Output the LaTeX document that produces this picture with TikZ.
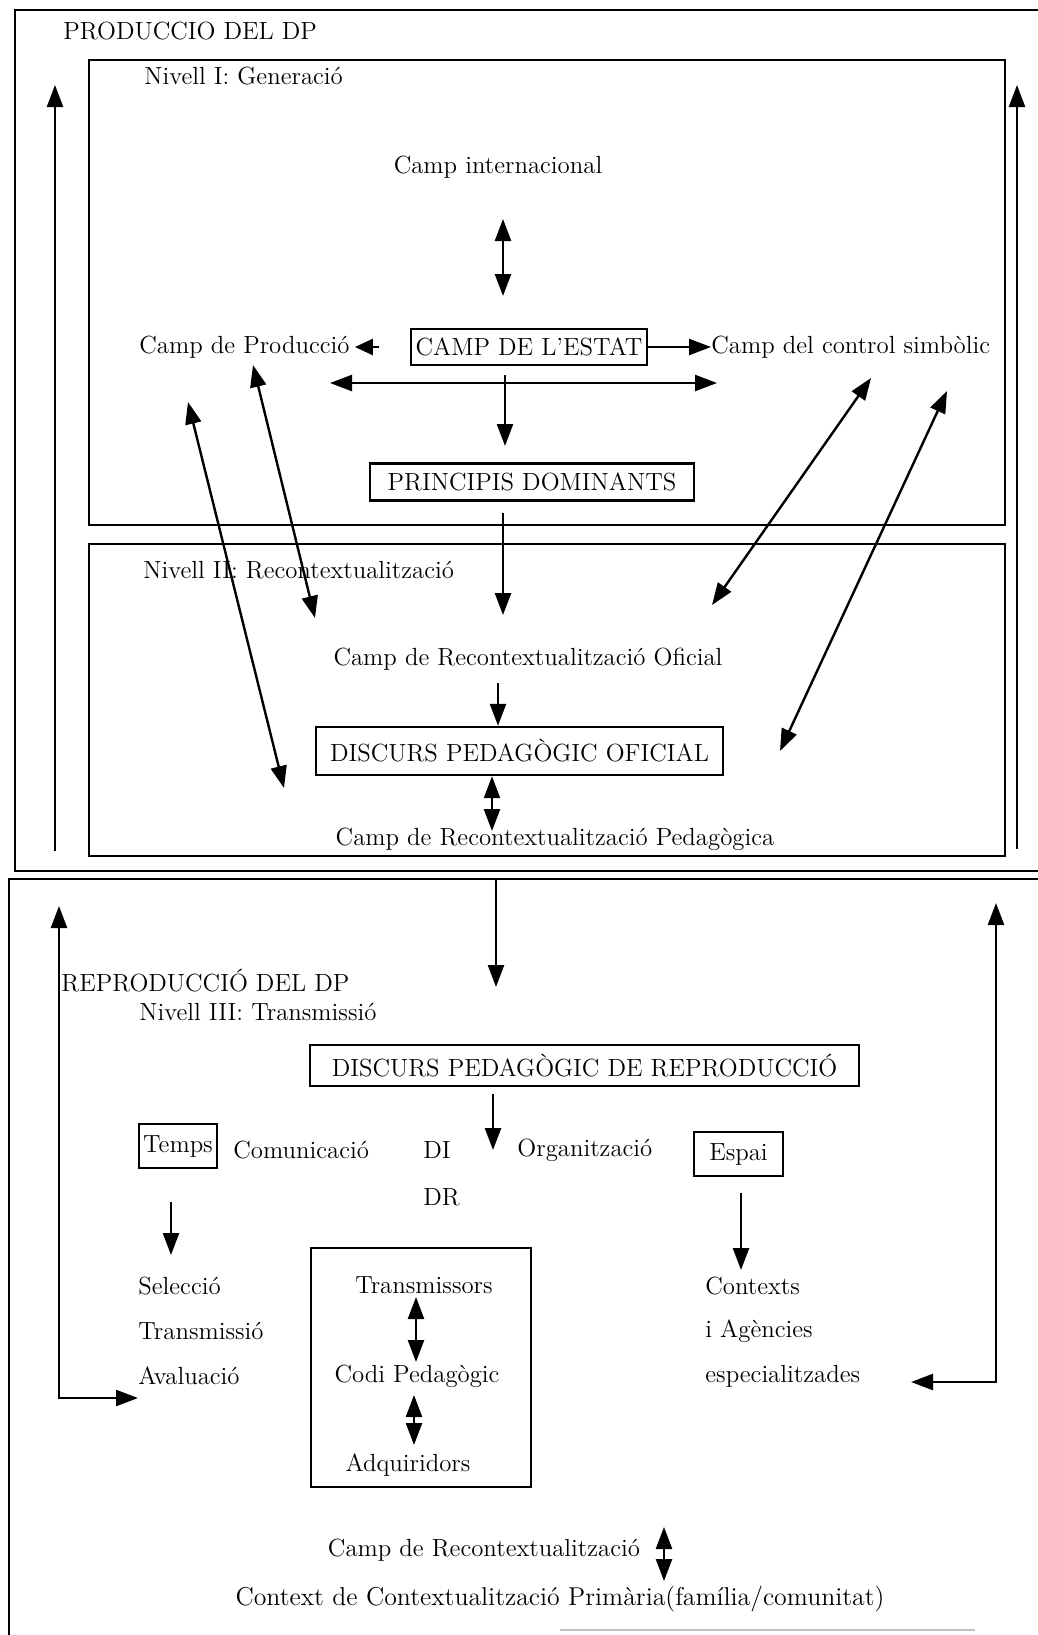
\documentclass[tikz,border=0pt]{standalone}
\usepackage{fontspec}
\usetikzlibrary{arrows.meta,calc}
\begin{document}
\begin{tikzpicture}[x=0.5pt,y=-0.5pt,
  every node/.style={font=\fontsize{12.4}{14}\selectfont, inner sep=0pt},
  lbl/.style={anchor=west},
  frame/.style={draw, line width=1.2pt},
  boxn/.style={draw, line width=1.2pt, inner sep=2pt},
  arr/.style={line width=1.2pt, -{Triangle[length=11pt,width=8pt]}},
  sarr/.style={line width=1.2pt, -{Triangle[length=9pt,width=8pt]}},
  darr/.style={line width=1.2pt, {Triangle[length=11pt,width=8pt]}-{Triangle[length=11pt,width=8pt]}}]
\useasboundingbox (0,0) rectangle (1038,1635);
% containers
\draw[frame] (15,10) rectangle (1070,871);
\draw[frame] (89,60) rectangle (1005,525);
\draw[frame] (89,544) rectangle (1005,856);
\draw[frame] (9,1650) -- (9,879) -- (1070,879);
\draw[gray!50, line width=1pt] (560,1630) -- (975,1630);

% ---- Producció ----
\node[lbl] (tprod) at (63,31) {PRODUCCIO DEL DP};
\node[lbl] (tniv1) at (144,76) {Nivell I: Generació};
\node (intl) at (498,167) {Camp internacional};
\node[boxn, minimum width=118pt, minimum height=18pt] (estat) at (529,347) {CAMP DE L'ESTAT};
\node[lbl] (cprod) at (139,347) {Camp de Producció};
\node[lbl] (csimb) at (711,347) {Camp del control simbòlic};
\node[boxn, minimum width=162pt, minimum height=18.5pt] (princ) at (532,482) {PRINCIPIS DOMINANTS};
\node[lbl] (tniv2) at (143,570) {Nivell II: Recontextualització};
\node (cro) at (528,659) {Camp de Recontextualització Oficial};
\node[boxn, minimum width=203.5pt, minimum height=24pt] (dpo) at (519.5,751) {DISCURS PEDAGÒGIC OFICIAL};
\node (crp) at (555,839) {Camp de Recontextualització Pedagògica};

\coordinate (i1) at (503,219);
\coordinate (i2) at (503,296);
\draw[darr] (i1) -- (i2);
\draw[sarr] ([xshift=-15.5pt]estat.west) -- ([xshift=2.5pt]cprod.east);
\draw[arr] (estat.east) -- (csimb.west);
\coordinate (hl) at (330,383);
\coordinate (hr) at (717,383);
\draw[darr] (hl) -- (hr);
\coordinate (v1) at (505,375);
\coordinate (v2) at (505,446);
\draw[arr] (v1) -- (v2);
\coordinate (p1) at (503,513);
\coordinate (p2) at (503,615);
\draw[arr] (p1) -- (p2);
\coordinate (o1) at (498,683);
\draw[arr] (o1) -- (o1 |- dpo.north);
\coordinate (o2) at (492,831);
\draw[darr] (o2 |- dpo.south) -- (o2);

\coordinate (d1a) at (188,402); \coordinate (d1b) at (284,788);
\coordinate (d2a) at (253,365); \coordinate (d2b) at (315,618);
\coordinate (d3a) at (871,378); \coordinate (d3b) at (712,605);
\coordinate (d4a) at (947,391); \coordinate (d4b) at (780,751);
\draw[darr] (d1a) -- (d1b);
\draw[darr] (d2a) -- (d2b);
\draw[darr] (d3a) -- (d3b);
\draw[darr] (d4a) -- (d4b);

\coordinate (l1) at (55,851); \coordinate (l2) at (55,85);
\coordinate (r1) at (1017,849); \coordinate (r2) at (1017,85);
\draw[arr] (l1) -- (l2);
\draw[arr] (r1) -- (r2);

% ---- Reproducció ----
\coordinate (m1) at (496,879); \coordinate (m2) at (496,987);
\draw[arr] (m1) -- (m2);
\node[lbl] (trep) at (61,981) {REPRODUCCIÓ DEL DP};
\node[lbl] (tniv3) at (139,1012) {Nivell III: Transmissió};
\node[boxn, minimum width=274.5pt, minimum height=20.5pt] (dpr) at (584.5,1065.5) {DISCURS PEDAGÒGIC DE REPRODUCCIÓ};
\coordinate (n1) at (493,1094); \coordinate (n2) at (493,1150);
\draw[arr] (n1) -- (n2);
\node[boxn, inner sep=0pt, minimum width=39pt, minimum height=22pt] (temps) at (178,1146) {Temps};
\node[lbl] (comu) at (233,1150) {Comunicació};
\node[lbl] (di) at (423,1150) {DI};
\node[lbl] (org) at (517,1150) {Organització};
\node[boxn, minimum width=44.5pt, minimum height=22pt] (espai) at (738.5,1154) {Espai};
\node[lbl] (dr) at (423,1197) {DR};
\coordinate (t1) at (171,1202); \coordinate (t2) at (171,1255);
\draw[arr] (t1) -- (t2);
\coordinate (e1) at (741,1193); \coordinate (e2) at (741,1270);
\draw[arr] (e1) -- (e2);
\node[lbl] (sel) at (138,1286) {Selecció};
\node[lbl] (trm) at (138,1331) {Transmissió};
\node[lbl] (aval) at (138,1376) {Avaluació};
\node[frame, minimum width=110pt, minimum height=119.5pt] (codebox) at (421,1367.5) {};
\node (trs) at (424,1285) {Transmissors};
\node (codi) at (417,1376) {Codi Pedagògic};
\node (adq) at (408,1465) {Adquiridors};
\coordinate (c1) at (416,1297); \coordinate (c2) at (416,1362);
\draw[darr] (c1) -- (c2);
\coordinate (c3) at (414,1395); \coordinate (c4) at (414,1445);
\draw[darr] (c3) -- (c4);
\node[lbl] (ctx) at (705,1286) {Contexts};
\node[lbl] (iag) at (705,1331) {i Agències};
\node[lbl] (esp) at (705,1376) {especialitzades};
\coordinate (la) at (59,906); \coordinate (lb) at (59,1398); \coordinate (lc) at (138,1398);
\draw[darr] (la) -- (lb) -- (lc);
\coordinate (ra) at (996,903); \coordinate (rb) at (996,1382); \coordinate (rc) at (911,1382);
\draw[darr] (ra) -- (rb) -- (rc);
\node (crec) at (484,1550) {Camp de Recontextualització};
\node (cprim) at (560,1599) {\fontsize{12.9}{14}\selectfont Context de Contextualització Primària(família/comunitat)};
\coordinate (b1) at (664,1527); \coordinate (b2) at (664,1581);
\draw[darr] (b1) -- (b2);
\end{tikzpicture}
\end{document}
